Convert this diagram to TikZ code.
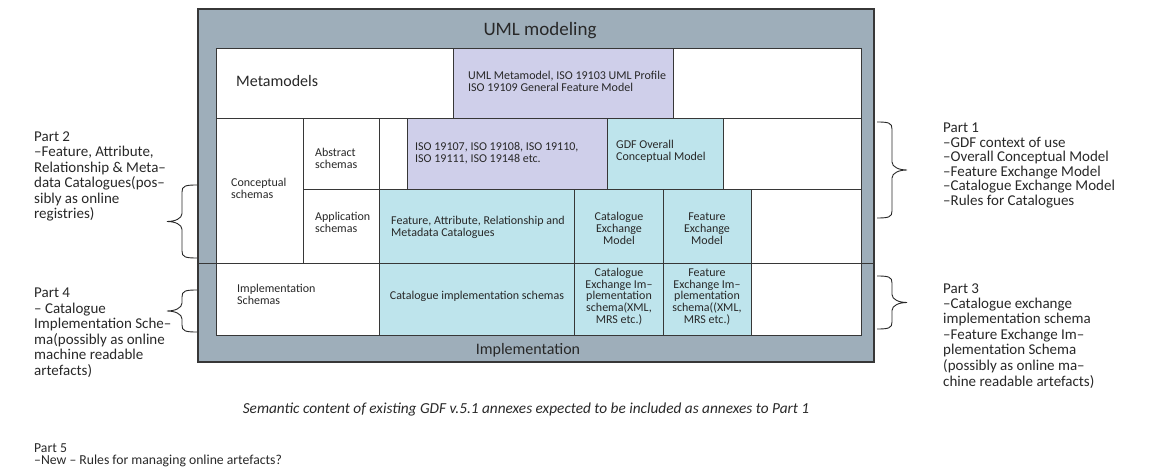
\documentclass[tikz,border=0pt]{standalone}
\usepackage{fontspec}
\setmainfont{Carlito}
\definecolor{framec}{RGB}{158,174,186}
\definecolor{lavc}{RGB}{207,207,234}
\definecolor{cyanc}{RGB}{190,228,236}
\definecolor{linec}{RGB}{55,55,55}
\definecolor{txtc}{RGB}{40,40,40}
% stacked lines whose baseline is the first line
\newcommand\stackL[1]{\vtop{\lineskiplimit=-30pt\lineskip=0pt\halign{##\hfil\cr#1\crcr}}}
\newcommand\stackC[1]{\vtop{\lineskiplimit=-30pt\lineskip=0pt\halign{\hfil##\hfil\cr#1\crcr}}}
% a table cell: name, x1, y1, x2, y2, fill
\newcommand\cellbox[6]{\node[cellsty, fill=#6, minimum width={(#4-#2)*1pt},
  minimum height={(#5-#3)*1pt}, anchor=north west] (#1) at (#2,#3) {};}
% a curly brace: end x, top y, bottom y, direction (+1 right, -1 left)
\newcommand\curly[4]{\draw[bracesty]
  (#1,#2) .. controls ({#1+12*(#4)},#2) and ({#1+15*(#4)},{#2+1}) .. ({#1+15*(#4)},{#2+7})
  -- ({#1+15*(#4)},{(#2+#3)/2-8})
  .. controls ({#1+15*(#4)},{(#2+#3)/2-3}) and ({#1+22*(#4)},{(#2+#3)/2}) .. ({#1+30*(#4)},{(#2+#3)/2})
  .. controls ({#1+22*(#4)},{(#2+#3)/2}) and ({#1+15*(#4)},{(#2+#3)/2+3}) .. ({#1+15*(#4)},{(#2+#3)/2+8})
  -- ({#1+15*(#4)},{#3-7})
  .. controls ({#1+15*(#4)},{#3-1}) and ({#1+12*(#4)},#3) .. (#1,#3);}
\begin{document}
\begin{tikzpicture}[x=1pt,y=-1pt,
  cellsty/.style={draw=linec, line width=0.9pt, inner sep=0pt, outer sep=0pt},
  celltxt/.style={inner sep=0pt, text=txtc, font=\fontsize{12}{12}\selectfont},
  parttxt/.style={inner sep=0pt, text=txtc, font=\fontsize{15}{15.5}\selectfont},
  bracesty/.style={draw=txtc, line width=0.9pt},
]
\useasboundingbox (0,0) rectangle (1157,473);

% outer frame
\node[cellsty, fill=framec, line width=1.2pt, minimum width=676pt,
  minimum height=353pt, anchor=north west] (frame) at (198,9) {};

% metamodel row
\cellbox{meta}{216}{48}{453}{118}{white}
\cellbox{umlmeta}{453}{48}{673}{118}{lavc}
\cellbox{metaR}{673}{48}{861}{118}{white}
% conceptual schemas
\cellbox{concept}{216}{118}{303}{263}{white}
\cellbox{abstr}{303}{118}{379}{189}{white}
\cellbox{absgap}{379}{118}{407}{189}{white}
\cellbox{iso}{407}{118}{607}{189}{lavc}
\cellbox{gdf}{607}{118}{723}{189}{cyanc}
\cellbox{absR}{723}{118}{861}{189}{white}
\cellbox{appl}{303}{189}{379}{263}{white}
\cellbox{cats}{379}{189}{574}{263}{cyanc}
\cellbox{catx}{574}{189}{663}{263}{cyanc}
\cellbox{featx}{663}{189}{751}{263}{cyanc}
\cellbox{appR}{751}{189}{861}{263}{white}
% implementation row
\cellbox{impl}{216}{263}{379}{335}{white}
\cellbox{catimpl}{379}{263}{574}{335}{cyanc}
\cellbox{catxi}{574}{263}{663}{335}{cyanc}
\cellbox{featxi}{663}{263}{751}{335}{cyanc}
\cellbox{implR}{751}{263}{861}{335}{white}

% modeling / implementation divider
\draw[linec, line width=0.9pt] (frame.west |- impl.north) -- (frame.east |- impl.north);

% frame titles
\node[inner sep=0pt, text=txtc, font=\fontsize{19}{19}\selectfont, anchor=base] (tUml) at (540,36) {UML modeling};
\node[inner sep=0pt, text=txtc, font=\fontsize{16}{16}\selectfont, anchor=base] (tImpl) at (528,354) {Implementation};

% cell texts
\node[inner sep=0pt, text=txtc, font=\fontsize{16}{16}\selectfont, anchor=base west] (tMeta) at (236,87) {Metamodels};
\node[celltxt, anchor=base west] (tUmlMeta) at (468,80) {\stackL{UML Metamodel, ISO 19103 UML Profile\cr ISO 19109 General Feature Model}};
\node[celltxt, anchor=base west] (tConcept) at (231,187) {\stackL{Conceptual\cr schemas}};
\node[celltxt, anchor=base west] (tAbstr) at (315,157) {\stackL{Abstract\cr schemas}};
\node[celltxt, anchor=base west] (tAppl) at (315,221) {\stackL{Application\cr schemas}};
\node[celltxt, anchor=base west] (tIso) at (415,150.5) {\stackL{ISO 19107, ISO 19108, ISO 19110,\cr ISO 19111, ISO 19148 etc.}};
\node[celltxt, anchor=base west] (tGdf) at (616,149) {\stackL{GDF Overall\cr Conceptual Model}};
\node[celltxt, anchor=base west] (tCats) at (391,225) {\stackL{Feature, Attribute, Relationship and\cr Metadata Catalogues}};
\node[celltxt, anchor=base] (tCatx) at (619,221) {\stackC{Catalogue\cr Exchange\cr Model}};
\node[celltxt, anchor=base] (tFeatx) at (707,221) {\stackC{Feature\cr Exchange\cr Model}};
\node[celltxt, anchor=base west] (tImplS) at (237,292) {\stackL{Implementation\cr Schemas}};
\node[celltxt, anchor=base] (tCatImpl) at (477,299) {Catalogue implementation schemas};
\node[celltxt, font=\fontsize{12}{11.7}\selectfont, anchor=base] (tCatxi) at (619,276.5)
  {\stackC{Catalogue\cr Exchange Im–\cr plementation\cr schema(XML,\cr MRS etc.)}};
\node[celltxt, font=\fontsize{12}{11.7}\selectfont, anchor=base] (tFeatxi) at (707,276.5)
  {\stackC{Feature\cr Exchange Im–\cr plementation\cr schema((XML,\cr MRS etc.)}};

% braces
\curly{197}{185}{258}{-1}
\curly{197}{290}{332}{-1}
\curly{877}{122}{218}{1}
\curly{877}{276}{329}{1}

% part descriptions
\node[parttxt, anchor=base west] (part2) at (34,141.5)
  {\stackL{Part 2\cr –Feature, Attribute,\cr Relationship \& Meta–\cr data Catalogues(pos–\cr sibly as online\cr registries)}};
\node[parttxt, anchor=base west] (part4) at (34,298)
  {\stackL{Part 4\cr – Catalogue\cr Implementation Sche–\cr ma(possibly as online\cr machine readable\cr artefacts)}};
\node[parttxt, font=\fontsize{15}{14.5}\selectfont, anchor=base west] (part1) at (943,133)
  {\stackL{Part 1\cr –GDF context of use\cr –Overall Conceptual Model\cr –Feature Exchange Model\cr –Catalogue Exchange Model\cr –Rules for Catalogues}};
\node[parttxt, anchor=base west] (part3) at (943,293)
  {\stackL{Part 3\cr –Catalogue exchange\cr implementation schema\cr –Feature Exchange Im–\cr plementation Schema\cr (possibly as online ma–\cr chine readable artefacts)}};

% caption and part 5
\node[inner sep=0pt, text=txtc, font=\fontsize{15.3}{15.3}\selectfont\itshape, anchor=base] (caption) at (526,413)
  {Semantic content of existing GDF v.5.1 annexes expected to be included as annexes to Part 1};
\node[inner sep=0pt, text=txtc, font=\fontsize{13.7}{12.5}\selectfont, anchor=base west] (part5) at (34,452)
  {\stackL{Part 5\cr –New – Rules for managing online artefacts?}};
\end{tikzpicture}
\end{document}
